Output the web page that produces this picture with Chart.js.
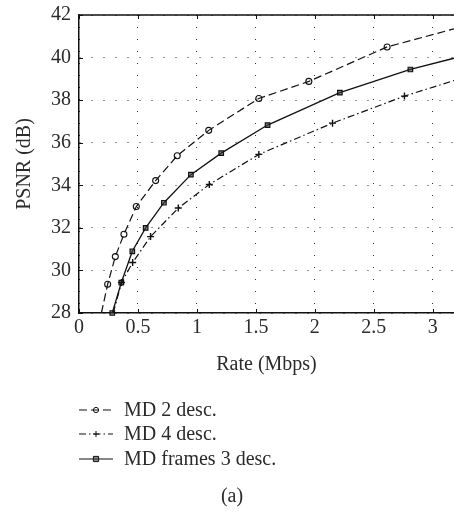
<!DOCTYPE html>
<html>
<head>
<meta charset="utf-8">
<script src="https://cdn.jsdelivr.net/npm/chart.js@4.4.1/dist/chart.umd.min.js"></script>
<style>
html,body{margin:0;padding:0;background:#fff;}
#wrap{width:454px;height:512px;position:relative;}
</style>
</head>
<body>
<div id="wrap"><canvas id="c" width="454" height="512"></canvas></div>
<script>
// ---- data ----
const seriesNames = ["MD 2 desc.", "MD 4 desc.", "MD frames 3 desc."];
const md2X = [0.19, 0.243, 0.308, 0.381, 0.486, 0.65, 0.833, 1.10, 1.525, 1.949, 2.613, 3.18];
const md2Y = [28.0, 29.35, 30.65, 31.70, 33.00, 34.22, 35.39, 36.58, 38.08, 38.88, 40.50, 41.35];
const md4X = [0.29, 0.36, 0.455, 0.607, 0.842, 1.105, 1.525, 2.15, 2.76, 3.18];
const md4Y = [28.0, 29.43, 30.37, 31.59, 32.93, 34.04, 35.45, 36.92, 38.19, 38.92];
const mdfX = [0.282, 0.359, 0.452, 0.565, 0.72, 0.949, 1.206, 1.599, 2.212, 2.81, 3.18];
const mdfY = [28.0, 29.43, 30.90, 32.00, 33.18, 34.50, 35.51, 36.83, 38.35, 39.44, 39.97];
const xTicks = [0, 0.5, 1, 1.5, 2, 2.5, 3];
const yTicks = [28, 30, 32, 34, 36, 38, 40, 42];
const X_MIN = 0, X_MAX = 3.18, Y_MIN = 28, Y_MAX = 42;
const xTitle = "Rate (Mbps)";
const yTitle = "PSNR (dB)";
const caption = "(a)";

const FONT = "'Liberation Serif', 'Times New Roman', serif";
const FS = 20;
const TXT = "#2b2b2b";

function pts(xs, ys){ return xs.map((x,i)=>({x:x, y:ys[i]})); }
// unmarked line ends (entering/leaving the frame)
function markerRadius(r){
  return function(ctx){
    const v = ctx.raw; if(!v) return r;
    if (v.x >= X_MAX - 1e-6) return 0;
    if (ctx.datasetIndex !== 2 && ctx.dataIndex === 0) return 0;
    return r;
  };
}

const datasets = [
  {label: seriesNames[0], data: pts(md2X, md2Y), borderColor:'#111', borderWidth:1.2,
   borderDash:[8,4], pointStyle:'circle', pointRadius: markerRadius(3), pointBorderColor:'#111',
   pointBackgroundColor:'rgba(0,0,0,0)', pointBorderWidth:1.1, showLine:true, clip:false},
  {label: seriesNames[1], data: pts(md4X, md4Y), borderColor:'#111', borderWidth:1.2,
   borderDash:[7,3,1.5,3], pointStyle:'cross', pointRadius: markerRadius(3.5), pointBorderColor:'#111',
   pointBackgroundColor:'rgba(0,0,0,0)', pointBorderWidth:1.4, showLine:true, clip:false},
  {label: seriesNames[2], data: pts(mdfX, mdfY), borderColor:'#111', borderWidth:1.3,
   borderDash:[], pointStyle:'rect', pointRadius: markerRadius(3.2), pointBorderColor:'#111',
   pointBackgroundColor:'rgba(60,60,60,0.6)', pointBorderWidth:1.2, showLine:true, clip:false}
];

const extras = {
  id:'extras',
  afterDraw(chart){
    const ctx = chart.ctx, a = chart.chartArea;
    const xs = chart.scales.x, ys = chart.scales.y;
    ctx.save();
    // top border
    ctx.strokeStyle = '#111'; ctx.lineWidth = 1.5; ctx.setLineDash([]);
    ctx.beginPath(); ctx.moveTo(a.left, a.top); ctx.lineTo(chart.width, a.top); ctx.stroke();
    // inward tick marks
    ctx.lineWidth = 1;
    ctx.beginPath();
    xTicks.forEach(v=>{
      const px = Math.round(xs.getPixelForValue(v))+0.5;
      ctx.moveTo(px, a.bottom); ctx.lineTo(px, a.bottom-4);
      ctx.moveTo(px, a.top); ctx.lineTo(px, a.top+4);
    });
    yTicks.forEach(v=>{
      const py = Math.round(ys.getPixelForValue(v))+0.5;
      ctx.moveTo(a.left, py); ctx.lineTo(a.left+4, py);
    });
    ctx.stroke();
    // legend
    const lx0 = 79, lx1 = 113, tx = 124, rowY = [410, 434, 459];
    chart.data.datasets.forEach((ds,i)=>{
      const y = rowY[i];
      ctx.strokeStyle = '#111'; ctx.lineWidth = 1.2;
      ctx.setLineDash(ds.borderDash);
      ctx.beginPath(); ctx.moveTo(lx0, y); ctx.lineTo(lx1, y); ctx.stroke();
      ctx.setLineDash([]);
      const mx = (lx0+lx1)/2;
      ctx.lineWidth = 1;
      ctx.beginPath();
      if (ds.pointStyle === 'circle'){ ctx.arc(mx, y, 2.6, 0, Math.PI*2); ctx.stroke(); }
      else if (ds.pointStyle === 'cross'){ ctx.moveTo(mx-3,y); ctx.lineTo(mx+3,y); ctx.moveTo(mx,y-3); ctx.lineTo(mx,y+3); ctx.stroke(); }
      else { ctx.fillStyle='rgba(60,60,60,0.6)'; ctx.rect(mx-2.6,y-2.6,5.2,5.2); ctx.fill(); ctx.stroke(); }
      ctx.fillStyle = TXT; ctx.font = FS + "px " + FONT;
      ctx.textAlign = 'left'; ctx.textBaseline = 'middle';
      ctx.fillText(ds.label, tx, y+1);
    });
    // caption
    ctx.fillStyle = TXT; ctx.font = FS + "px " + FONT; ctx.textAlign='center'; ctx.textBaseline='middle';
    ctx.fillText(caption, 232, 497);
    ctx.restore();
  }
};

new Chart(document.getElementById('c'), {
  type:'scatter',
  data:{datasets},
  options:{
    responsive:false, animation:false,
    layout:{autoPadding:false, padding:{top:15, right:0, bottom:135, left:0}},
    plugins:{legend:{display:false}, tooltip:{enabled:false}},
    scales:{
      x:{type:'linear', min:X_MIN, max:X_MAX,
        afterFit(s){ s.height = 64; s.paddingRight = 0; s.paddingLeft = 0; },
        afterBuildTicks(s){ s.ticks = xTicks.map(v=>({value:v})); },
        ticks:{includeBounds:false, font:{family:FONT, size:FS}, color:TXT, padding:3, maxRotation:0,
          callback:v=>String(v)},
        grid:{drawTicks:false, color:'#333', lineWidth:1},
        border:{display:true, color:'#111', width:1.5, dash:[1,11]},
        title:{display:true, text:xTitle, font:{family:FONT, size:FS}, color:TXT, padding:{top:0,bottom:0}}
      },
      y:{type:'linear', min:Y_MIN, max:Y_MAX,
        afterFit(s){ s.width = 79; s.paddingTop = 0; s.paddingBottom = 0; },
        afterBuildTicks(s){ s.ticks = yTicks.map(v=>({value:v})); },
        ticks:{font:{family:FONT, size:FS}, color:TXT, padding:8, callback:v=>String(v)},
        grid:{drawTicks:false, color:'#333', lineWidth:1},
        border:{display:true, color:'#111', width:1.5, dash:[1,11]},
        title:{display:true, text:yTitle, font:{family:FONT, size:FS}, color:TXT, padding:{top:13,bottom:0}}
      }
    }
  },
  plugins:[extras]
});
</script>
</body>
</html>
